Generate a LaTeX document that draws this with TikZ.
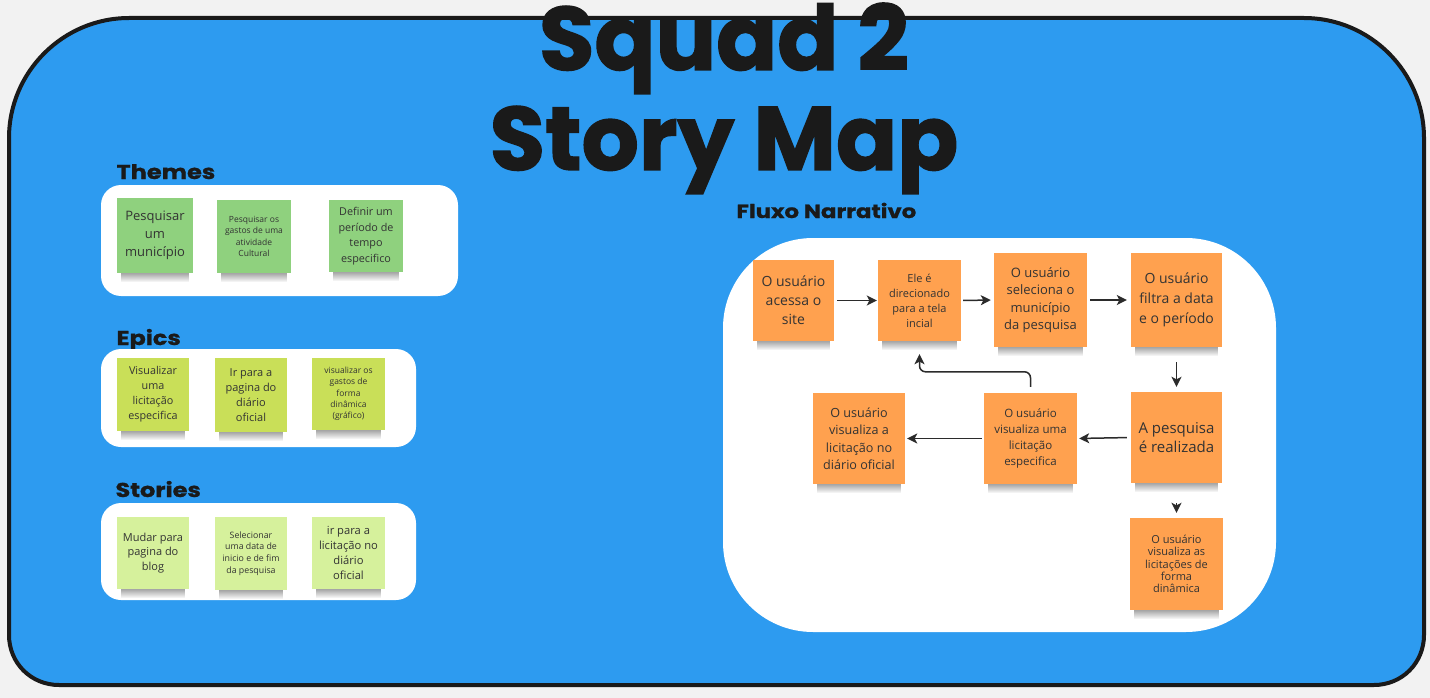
\documentclass[tikz,border=0pt]{standalone}
\usepackage{fontspec}
\setmainfont{Open Sans}
\newfontfamily\titlefont{Poppins}[FakeBold=1.5]
\newfontfamily\headfont{Poppins}[FakeStretch=1.2,FakeBold=1]
\usetikzlibrary{arrows.meta,fadings}
\definecolor{bgc}{HTML}{F2F2F2}
\definecolor{blueb}{HTML}{2D9BF0}
\definecolor{darkc}{HTML}{1A1A1A}
\definecolor{greenn}{HTML}{8FD17E}
\definecolor{limen}{HTML}{C9DF58}
\definecolor{palen}{HTML}{D6F19C}
\definecolor{orangen}{HTML}{FFA14F}
\definecolor{txtc}{HTML}{333333}
\definecolor{arrc}{HTML}{2B2B2B}
\newcommand\nshadow[1]{\fill[black,opacity=0.35,path fading=south] ([xshift=4pt]#1.south west) rectangle ([xshift=-4pt,yshift=-9pt]#1.south east);}
\tikzset{
  note/.style={rectangle,inner sep=0pt,align=center,text=txtc},
  fz/.style 2 args={font=\fontsize{#1}{#2}\selectfont},
  panel/.style={fill=white,draw=none},
  heading/.style={anchor=base west,text=darkc,font=\headfont\bfseries\fontsize{20}{20}\selectfont},
  bigtitle/.style={anchor=base,text=darkc,font=\titlefont\bfseries\fontsize{90}{90}\selectfont},
  arr/.style={draw=arrc,line width=1.5pt,-{Stealth[length=10pt,width=10pt,inset=2.5pt]}}
}
\begin{document}
\begin{tikzpicture}[x=1pt,y=-1pt]
\useasboundingbox (0,0) rectangle (1430,698);
\fill[bgc] (0,0) rectangle (1430,698);
% main frame
\draw[line width=4pt,draw=darkc,fill=blueb]
  (9,138) .. controls (9,72) and (63,18) .. (129,18) -- (1304,18)
  .. controls (1370,18) and (1424,72) .. (1424,138) -- (1424,635)
  .. controls (1424,663) and (1402,685) .. (1374,685) -- (59,685)
  .. controls (31,685) and (9,663) .. (9,635) -- cycle;
% titles
\node[bigtitle] (title1) at (724,70) {Squad 2};
\node[bigtitle] (title2) at (724,170) {Story Map};
% headings
\node[heading] (hthemes) at (113,179) {Themes};
\node[heading] (hepics) at (113,345) {Epics};
\node[heading] (hstories) at (112,497) {Stories};
\node[heading,font=\headfont\bfseries\fontsize{19}{19}\selectfont] (hfluxo) at (733,218) {Fluxo Narrativo};
% panels
\fill[panel,rounded corners=20pt] (101,185) rectangle (458,296);
\fill[panel,rounded corners=20pt] (101,349) rectangle (416,447);
\fill[panel,rounded corners=20pt] (101,503) rectangle (416,600);
\fill[panel,rounded corners=90pt] (723,238) rectangle (1276,632);
% themes
\node[note,fill=greenn,minimum width=76,minimum height=75,fz={13}{18}] (t1) at (155,235.5) {Pesquisar\\um\\município};
\node[note,fill=greenn,minimum width=74,minimum height=73,fz={8.5}{11.3}] (t2) at (254,236.5) {Pesquisar os\\gastos de uma\\atividade\\Cultural};
\node[note,fill=greenn,minimum width=74,minimum height=72,fz={10.8}{15.5}] (t3) at (366,236) {Definir um\\período de\\tempo\\especifico};
% epics
\node[note,fill=limen,minimum width=72,minimum height=73,fz={10.8}{15}] (e1) at (153,394.5) {Visualizar\\uma\\licitação\\especifica};
\node[note,fill=limen,minimum width=72,minimum height=74,fz={11}{15}] (e2) at (251,395) {Ir para a\\pagina do\\diário\\oficial};
\node[note,fill=limen,minimum width=73,minimum height=72,fz={8.5}{11.3}] (e3) at (348.5,394) {visualizar os\\gastos de\\forma\\dinâmica\\(gráfico)};
% stories
\node[note,fill=palen,minimum width=72,minimum height=72,fz={11}{14.3}] (s1) at (153,553) {Mudar para\\pagina do\\blog};
\node[note,fill=palen,minimum width=72,minimum height=73,fz={8.8}{11.7}] (s2) at (251,553.5) {Selecionar\\uma data de\\inicio e de fim\\da pesquisa};
\node[note,fill=palen,minimum width=73,minimum height=72,fz={11.2}{15}] (s3) at (348.5,553) {ir para a\\licitação no\\diário\\oficial};
% fluxo
\node[note,fill=orangen,minimum width=81,minimum height=81,fz={14}{19}] (A) at (793.5,300.5) {O usuário\\acessa o\\site};
\node[note,fill=orangen,minimum width=83,minimum height=81,fz={11}{15}] (B) at (919.5,300.5) {Ele é\\direcionado\\para a tela\\incial};
\node[note,fill=orangen,minimum width=93,minimum height=94,fz={13}{17.5}] (C) at (1040.5,300) {O usuário\\seleciona o\\município\\da pesquisa};
\node[note,fill=orangen,minimum width=91,minimum height=94,fz={14}{20}] (D) at (1176.5,300) {O usuário\\filtra a data\\e o período};
\node[note,fill=orangen,minimum width=91,minimum height=91,fz={15}{19.5}] (E) at (1176.5,437.5) {A pesquisa\\é realizada};
\node[note,fill=orangen,minimum width=93,minimum height=91,fz={11.5}{16}] (F) at (1030.5,438.5) {O usuário\\visualiza uma\\licitação\\especifica};
\node[note,fill=orangen,minimum width=92,minimum height=91,fz={12.6}{17.5}] (G) at (859,438.5) {O usuário\\visualiza a\\licitação no\\diário oficial};
\node[note,fill=orangen,minimum width=93,minimum height=92,fz={11}{12.3}] (H) at (1176.5,564) {O usuário\\visualiza as\\licitações de\\forma\\dinâmica};
% shadows
\foreach \n in {t1,t2,t3,e1,e2,e3,s1,s2,s3,A,B,C,D,E,F,G,H}{\nshadow{\n}}
% connectors
\draw[arr,shorten <=3pt,shorten >=1pt] (A.east) -- (B.west);
\draw[arr,shorten <=2pt,shorten >=3pt] (B.east) -- (C.west);
\draw[arr,shorten <=3pt,shorten >=4pt] (C.east) -- (D.west);
\draw[arr,shorten <=15pt,shorten >=5pt] (D.south) -- (E.north);
\draw[arr,shorten <=4pt,shorten >=2pt] (E.west) -- (F.east);
\draw[arr,shorten <=2pt,shorten >=2pt] (F.west) -- (G.east);
\draw[arr,shorten <=20pt,shorten >=5pt] (E.south) -- (H.north);
\draw[arr,rounded corners=6pt,shorten <=6pt,shorten >=13pt] (F.north) -- ++(0,-21) -| (B.south);
\end{tikzpicture}
\end{document}
